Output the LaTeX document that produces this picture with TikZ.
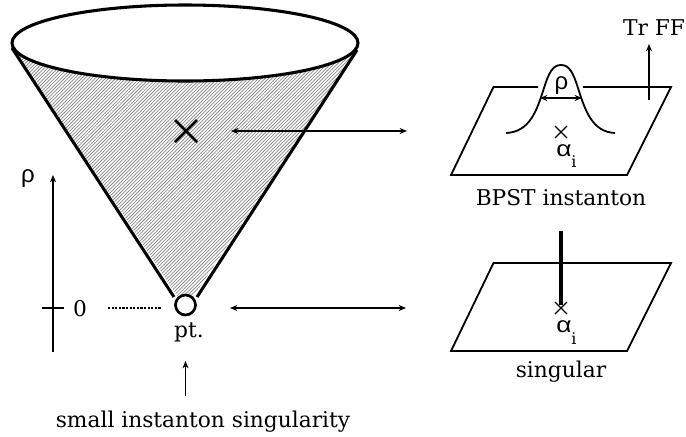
\documentclass[tikz,border=0pt]{standalone}
\usepackage{fontspec}
\usetikzlibrary{arrows.meta}
\newfontfamily\gk{Liberation Sans}
\newfontfamily\sch{DejaVu Serif}
\tikzset{
  x=0.75pt,y=-0.75pt,
  lab/.style={inner sep=0pt,font=\sch\fontsize{16.3}{19}\selectfont},
  greek/.style={inner sep=0pt,font=\gk\fontsize{18}{21}\selectfont},
  alpha sign/.style={inner sep=0pt,xscale=1.2,font=\gk\fontsize{16.5}{20}\selectfont},
  sub/.style={inner sep=0pt,font=\sch\fontsize{12}{14}\selectfont},
  cone/.style={line width=2.3pt},
  thin line/.style={line width=0.95pt,black},
  mid line/.style={line width=1.35pt,black},
  head/.style={-{Stealth[length=5.5pt,width=4.5pt]}},
  heads/.style={{Stealth[length=5.5pt,width=4.5pt]}-{Stealth[length=5.5pt,width=4.5pt]}},
  plane/.style={line width=1.35pt,line join=miter},
}
\begin{document}
\begin{tikzpicture}
\useasboundingbox (0,0) rectangle (686,436);
% hatched cone
\begin{scope}
  \clip (12,48) -- (180,300) -- (191,300) -- (357,50) -- cycle;
  \foreach \k in {-320,-316.6,...,400} {
    \draw[line width=0.55pt,black!45] (\k,310) -- (\k+310,0);
  }
\end{scope}
\coordinate (apexL) at (174,297);
\coordinate (apexR) at (197,297);
\coordinate (rimL) at (12,48);
\coordinate (rimR) at (357,50);
\draw[cone,fill=white] (185,43) ellipse [x radius=173,y radius=38];
\draw[cone] (rimL) -- (apexL);
\draw[cone] (rimR) -- (apexR);
\node[draw,circle,fill=white,line width=2pt,minimum size=15pt,inner sep=0pt] (pt) at (185.5,305) {};
% cross in the cone
\coordinate (xa) at (175,120); \coordinate (xb) at (197,142);
\coordinate (xc) at (175,142); \coordinate (xd) at (197,120);
\draw[line width=2.1pt] (xa) -- (xb);
\draw[line width=2.1pt] (xc) -- (xd);
% connectors
\coordinate (a1) at (231,131); \coordinate (b1) at (407,131);
\coordinate (a2) at (230,308); \coordinate (b2) at (406,308);
\draw[thin line,heads] (a1) -- (b1);
\draw[mid line,heads] (a2) -- (b2);
% rho axis
\coordinate (ax0) at (53,352); \coordinate (ax1) at (53,175);
\draw[thin line,head] (ax0) -- (ax1);
\node[greek] (rho) at (28,179) {ρ};
\coordinate (t0) at (42,308); \coordinate (t1) at (64,308);
\draw[thin line] (t0) -- (t1);
\node[lab] (zero) at (80,308.5) {0};
\coordinate (d0) at (108,308); \coordinate (d1) at (161,308);
\draw[line width=0.9pt,dash pattern=on 1.6pt off 1.1pt] (d0) -- (d1);
\node[lab] (ptl) at (189,332) {pt.};
\coordinate (u0) at (185.5,396); \coordinate (u1) at (185.5,361);
\draw[thin line,head] (u0) -- (u1);
\node[lab] (small) at (203,422) {small instanton singularity};
% upper plane
\coordinate (p1) at (538,87); \coordinate (p2) at (493.5,87); \coordinate (p3) at (451,175);
\coordinate (p4) at (627,175); \coordinate (p5) at (671,87); \coordinate (p6) at (583,87);
\draw[plane] (p1) -- (p2) -- (p3) -- (p4) -- (p5) -- (p6);
\draw[line width=1.35pt] (506,133) .. controls (530,132) and (537,110) .. (544,88)
   .. controls (549,72) and (553,65) .. (561,65)
   .. controls (569,65) and (573,72) .. (578,88)
   .. controls (585,110) and (592,132) .. (615,133);
\coordinate (w0) at (540,98); \coordinate (w1) at (582,98);
\draw[thin line,heads] (w0) -- (w1);
\node[greek] (rho2) at (561.5,86) {ρ};
\coordinate (c1a) at (555,126); \coordinate (c1b) at (567,138);
\coordinate (c1c) at (555,138); \coordinate (c1d) at (567,126);
\draw[thin line] (c1a) -- (c1b);
\draw[thin line] (c1c) -- (c1d);
\node[alpha sign] (al1) at (564,151) {α};
\node[sub] (i1) at (574,162) {i};
\coordinate (f0) at (649,100); \coordinate (f1) at (649,44);
\draw[mid line,head] (f0) -- (f1);
\node[lab] (trff) at (654,28) {Tr FF};
\node[lab] (bpst) at (561,198) {BPST instanton};
% lower plane
\coordinate (q1) at (493.5,263); \coordinate (q2) at (451,351);
\coordinate (q3) at (627,351); \coordinate (q4) at (671,263);
\draw[plane] (q1) -- (q2) -- (q3) -- (q4) -- cycle;
\coordinate (s0) at (561,231); \coordinate (s1) at (561,305);
\draw[line width=3.4pt] (s0) -- (s1);
\coordinate (c2a) at (555,302); \coordinate (c2b) at (567,314);
\coordinate (c2c) at (555,314); \coordinate (c2d) at (567,302);
\draw[thin line] (c2a) -- (c2b);
\draw[thin line] (c2c) -- (c2d);
\node[alpha sign] (al2) at (564,327) {α};
\node[sub] (i2) at (574,339) {i};
\node[lab] (sing) at (561,372) {singular};
\end{tikzpicture}
\end{document}
